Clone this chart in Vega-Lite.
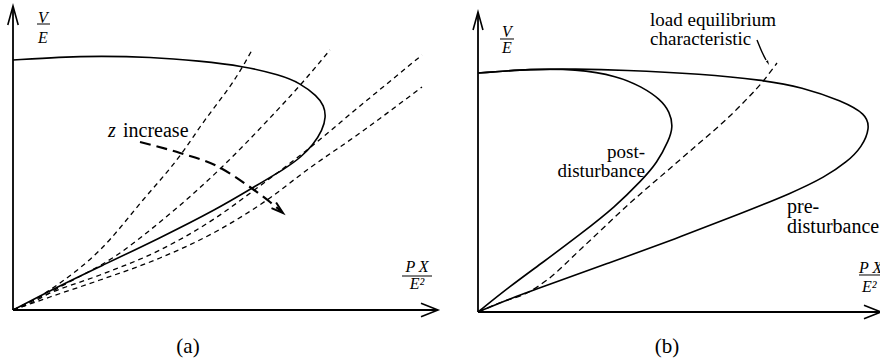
{
  "$schema": "https://vega.github.io/schema/vega-lite/v6.json",
  "padding": 0,
  "spacing": 0,
  "background": "white",
  "config": {
    "view": {"stroke": null},
    "concat": {"spacing": 0},
    "text": {"font": "Liberation Serif", "color": "black"}
  },
  "datasets": {
    "axesA": [
      {"x": 0, "y": 0, "x2": 0, "y2": 1.208},
      {"x": 0, "y": 0, "x2": 1.696, "y2": 0}
    ],
    "tipYA": [{"x": 0, "y": 1.216}],
    "tipXA": [{"x": 1.7, "y": 0}],
    "pvA": [
      {"o": 1, "x": 0, "y": 0},
      {"o": 2, "x": 0.188, "y": 0.098},
      {"o": 3, "x": 0.348, "y": 0.174},
      {"o": 4, "x": 0.588, "y": 0.288},
      {"o": 5, "x": 0.816, "y": 0.404},
      {"o": 6, "x": 0.96, "y": 0.49},
      {"o": 7, "x": 1.096, "y": 0.57},
      {"o": 8, "x": 1.152, "y": 0.612},
      {"o": 9, "x": 1.2, "y": 0.66},
      {"o": 10, "x": 1.238, "y": 0.72},
      {"o": 11, "x": 1.252, "y": 0.772},
      {"o": 12, "x": 1.244, "y": 0.818},
      {"o": 13, "x": 1.216, "y": 0.856},
      {"o": 14, "x": 1.148, "y": 0.908},
      {"o": 15, "x": 1.068, "y": 0.94},
      {"o": 16, "x": 0.92, "y": 0.976},
      {"o": 17, "x": 0.748, "y": 0.996},
      {"o": 18, "x": 0.548, "y": 1.012},
      {"o": 19, "x": 0.348, "y": 1.016},
      {"o": 20, "x": 0.188, "y": 1.012},
      {"o": 21, "x": 0, "y": 1.0}
    ],
    "loadA": [
      {"z": "z1", "x": 0, "y": 0}, {"z": "z1", "x": 0.068, "y": 0.032}, {"z": "z1", "x": 0.188, "y": 0.108},
      {"z": "z1", "x": 0.348, "y": 0.24}, {"z": "z1", "x": 0.52, "y": 0.44}, {"z": "z1", "x": 0.676, "y": 0.628},
      {"z": "z1", "x": 0.748, "y": 0.732}, {"z": "z1", "x": 0.92, "y": 0.976}, {"z": "z1", "x": 0.956, "y": 1.04},
      {"z": "z2", "x": 0, "y": 0}, {"z": "z2", "x": 0.08, "y": 0.032}, {"z": "z2", "x": 0.188, "y": 0.092},
      {"z": "z2", "x": 0.416, "y": 0.22}, {"z": "z2", "x": 0.588, "y": 0.352}, {"z": "z2", "x": 0.836, "y": 0.572},
      {"z": "z2", "x": 1.02, "y": 0.76}, {"z": "z2", "x": 1.156, "y": 0.908}, {"z": "z2", "x": 1.268, "y": 1.04},
      {"z": "z3", "x": 0, "y": 0}, {"z": "z3", "x": 0.148, "y": 0.068}, {"z": "z3", "x": 0.348, "y": 0.14},
      {"z": "z3", "x": 0.588, "y": 0.24}, {"z": "z3", "x": 0.816, "y": 0.372}, {"z": "z3", "x": 0.96, "y": 0.476},
      {"z": "z3", "x": 1.176, "y": 0.64}, {"z": "z3", "x": 1.388, "y": 0.816}, {"z": "z3", "x": 1.636, "y": 1.02},
      {"z": "z4", "x": 0, "y": 0}, {"z": "z4", "x": 0.148, "y": 0.052}, {"z": "z4", "x": 0.348, "y": 0.12},
      {"z": "z4", "x": 0.588, "y": 0.208}, {"z": "z4", "x": 0.816, "y": 0.316}, {"z": "z4", "x": 1.016, "y": 0.44},
      {"z": "z4", "x": 1.176, "y": 0.56}, {"z": "z4", "x": 1.388, "y": 0.708}, {"z": "z4", "x": 1.636, "y": 0.892}
    ],
    "zArrow": [
      {"x": 0.508, "y": 0.672}, {"x": 0.668, "y": 0.628}, {"x": 0.816, "y": 0.576},
      {"x": 0.936, "y": 0.5}, {"x": 1.028, "y": 0.432}, {"x": 1.072, "y": 0.396}
    ],
    "zTip": [{"x": 1.08, "y": 0.388}],
    "barsA": [
      {"x": 0.096, "x2": 0.148, "y": 1.144},
      {"x": 1.556, "x2": 1.676, "y": 0.136}
    ],
    "mathA": [
      {"x": 0.12, "y": 1.168, "t": "V"},
      {"x": 0.12, "y": 1.088, "t": "E"},
      {"x": 1.616, "y": 0.172, "t": "P X"},
      {"x": 1.616, "y": 0.104, "t": "E²"}
    ],
    "zLetter": [{"x": 0.38, "y": 0.692, "t": "z"}],
    "wordsA": [{"x": 0.44, "y": 0.692, "t": "increase"}],
    "capA": [{"x": 0.7, "y": -0.148, "t": "(a)"}],

    "axesB": [
      {"x": 0, "y": 0, "x2": 0, "y2": 1.2417},
      {"x": 0, "y": 0, "x2": 1.675, "y2": 0}
    ],
    "tipYB": [{"x": 0, "y": 1.25}],
    "tipXB": [{"x": 1.679, "y": 0}],
    "pvB": [
      {"curve": "pre", "o": 1, "x": 0, "y": 0},
      {"curve": "pre", "o": 2, "x": 0.1292, "y": 0.0542},
      {"curve": "pre", "o": 3, "x": 0.2667, "y": 0.1042},
      {"curve": "pre", "o": 4, "x": 0.5458, "y": 0.2042},
      {"curve": "pre", "o": 5, "x": 0.8208, "y": 0.3042},
      {"curve": "pre", "o": 6, "x": 1.1, "y": 0.4125},
      {"curve": "pre", "o": 7, "x": 1.3083, "y": 0.4958},
      {"curve": "pre", "o": 8, "x": 1.4458, "y": 0.5625},
      {"curve": "pre", "o": 9, "x": 1.5375, "y": 0.625},
      {"curve": "pre", "o": 10, "x": 1.6, "y": 0.6875},
      {"curve": "pre", "o": 11, "x": 1.6333, "y": 0.7667},
      {"curve": "pre", "o": 12, "x": 1.6167, "y": 0.825},
      {"curve": "pre", "o": 13, "x": 1.5167, "y": 0.8792},
      {"curve": "pre", "o": 14, "x": 1.35, "y": 0.9375},
      {"curve": "pre", "o": 15, "x": 1.1833, "y": 0.9667},
      {"curve": "pre", "o": 16, "x": 0.9333, "y": 0.9917},
      {"curve": "pre", "o": 17, "x": 0.6, "y": 1.0083},
      {"curve": "pre", "o": 18, "x": 0.4042, "y": 1.0125},
      {"curve": "pre", "o": 19, "x": 0.225, "y": 1.0125},
      {"curve": "pre", "o": 20, "x": 0, "y": 0.9958},
      {"curve": "post", "o": 1, "x": 0, "y": 0},
      {"curve": "post", "o": 2, "x": 0.1292, "y": 0.1042},
      {"curve": "post", "o": 3, "x": 0.2667, "y": 0.2042},
      {"curve": "post", "o": 4, "x": 0.4333, "y": 0.3292},
      {"curve": "post", "o": 5, "x": 0.5708, "y": 0.4375},
      {"curve": "post", "o": 6, "x": 0.6833, "y": 0.55},
      {"curve": "post", "o": 7, "x": 0.7458, "y": 0.6208},
      {"curve": "post", "o": 8, "x": 0.7958, "y": 0.7167},
      {"curve": "post", "o": 9, "x": 0.8125, "y": 0.7708},
      {"curve": "post", "o": 10, "x": 0.8, "y": 0.8333},
      {"curve": "post", "o": 11, "x": 0.7583, "y": 0.8875},
      {"curve": "post", "o": 12, "x": 0.6833, "y": 0.9375},
      {"curve": "post", "o": 13, "x": 0.5833, "y": 0.9833},
      {"curve": "post", "o": 14, "x": 0.4042, "y": 1.0125},
      {"curve": "post", "o": 15, "x": 0.225, "y": 1.0125},
      {"curve": "post", "o": 16, "x": 0, "y": 0.9958}
    ],
    "loadB": [
      {"x": 0, "y": 0}, {"x": 0.1, "y": 0.0417}, {"x": 0.2042, "y": 0.0792},
      {"x": 0.2875, "y": 0.1333}, {"x": 0.4333, "y": 0.2667}, {"x": 0.6292, "y": 0.45},
      {"x": 0.85, "y": 0.6417}, {"x": 1.0875, "y": 0.8542}, {"x": 1.1917, "y": 0.9667},
      {"x": 1.2458, "y": 1.0375}
    ],
    "pointer": [
      {"x": 1.1625, "y": 1.1333}, {"x": 1.1833, "y": 1.0833}, {"x": 1.2, "y": 1.05}
    ],
    "pointerTip": [{"x": 1.2125, "y": 1.0292}],
    "barsB": [
      {"x": 0.0917, "x2": 0.15, "y": 1.1375},
      {"x": 1.5875, "x2": 1.75, "y": 0.1542}
    ],
    "mathB": [
      {"x": 0.1208, "y": 1.1667, "t": "V"},
      {"x": 0.1208, "y": 1.1, "t": "E"}
    ],
    "mathBEdge": [
      {"x": 1.5875, "y": 0.1833, "t": "P X"},
      {"x": 1.6, "y": 0.1042, "t": "E²"}
    ],
    "leftB": [
      {"x": 0.7167, "y": 1.1917, "t": "load equilibrium"},
      {"x": 0.7167, "y": 1.1125, "t": "characteristic"}
    ],
    "postLbl": [
      {"x": 0.6958, "y": 0.6667, "t": "post-"},
      {"x": 0.6958, "y": 0.5875, "t": "disturbance"}
    ],
    "preLbl": [
      {"x": 1.2875, "y": 0.4375, "t": "pre-"},
      {"x": 1.2875, "y": 0.3542, "t": "disturbance"}
    ],
    "capB": [{"x": 0.7875, "y": -0.1458, "t": "(b)"}]
  },
  "hconcat": [
    {
      "width": 440,
      "height": 364,
      "encoding": {
        "x": {"field": "x", "type": "quantitative", "scale": {"domain": [-0.052, 1.708], "nice": false, "zero": false}, "axis": null},
        "y": {"field": "y", "type": "quantitative", "scale": {"domain": [-0.216, 1.24], "nice": false, "zero": false}, "axis": null}
      },
      "layer": [
        {
          "data": {"name": "axesA"},
          "mark": {"type": "rule", "stroke": "black", "strokeWidth": 1.8},
          "encoding": {"x2": {"field": "x2"}, "y2": {"field": "y2"}}
        },
        {
          "data": {"name": "tipYA"},
          "mark": {"type": "point", "shape": "M-0.55,2L0,0L0.55,2", "size": 361, "filled": false, "stroke": "black", "strokeWidth": 1.6, "opacity": 1}
        },
        {
          "data": {"name": "tipXA"},
          "mark": {"type": "point", "shape": "M-0.8,2L0,0L0.8,2", "size": 289, "angle": 90, "filled": false, "stroke": "black", "strokeWidth": 1.6, "opacity": 1}
        },
        {
          "data": {"name": "loadA"},
          "mark": {"type": "line", "stroke": "black", "strokeWidth": 1.3, "strokeDash": [5, 4], "interpolate": "monotone"},
          "encoding": {"detail": {"field": "z"}}
        },
        {
          "data": {"name": "pvA"},
          "mark": {"type": "line", "stroke": "black", "strokeWidth": 1.6, "interpolate": "basis"},
          "encoding": {"order": {"field": "o", "type": "quantitative"}}
        },
        {
          "data": {"name": "zArrow"},
          "mark": {"type": "line", "stroke": "black", "strokeWidth": 2.2, "strokeDash": [11, 6], "interpolate": "monotone"},
          "encoding": {}
        },
        {
          "data": {"name": "zTip"},
          "mark": {"type": "point", "shape": "M-0.6,2L0,0L0.6,2", "size": 144, "angle": 130, "filled": false, "stroke": "black", "strokeWidth": 2, "opacity": 1}
        },
        {
          "data": {"name": "barsA"},
          "mark": {"type": "rule", "stroke": "black", "strokeWidth": 1},
          "encoding": {"x2": {"field": "x2"}}
        },
        {
          "data": {"name": "mathA"},
          "mark": {"type": "text", "fontStyle": "italic", "fontSize": 16, "align": "center", "baseline": "middle"},
          "encoding": {"text": {"field": "t"}}
        },
        {
          "data": {"name": "zLetter"},
          "mark": {"type": "text", "fontStyle": "italic", "fontSize": 20, "align": "left", "baseline": "alphabetic"},
          "encoding": {"text": {"field": "t"}}
        },
        {
          "data": {"name": "wordsA"},
          "mark": {"type": "text", "fontSize": 20, "align": "left", "baseline": "alphabetic"},
          "encoding": {"text": {"field": "t"}}
        },
        {
          "data": {"name": "capA"},
          "mark": {"type": "text", "fontSize": 21, "align": "center", "baseline": "middle"},
          "encoding": {"text": {"field": "t"}}
        }
      ]
    },
    {
      "width": 440,
      "height": 364,
      "encoding": {
        "x": {"field": "x", "type": "quantitative", "scale": {"domain": [-0.15, 1.6833], "nice": false, "zero": false}, "axis": null},
        "y": {"field": "y", "type": "quantitative", "scale": {"domain": [-0.2167, 1.3], "nice": false, "zero": false}, "axis": null}
      },
      "layer": [
        {
          "data": {"name": "axesB"},
          "mark": {"type": "rule", "stroke": "black", "strokeWidth": 1.8},
          "encoding": {"x2": {"field": "x2"}, "y2": {"field": "y2"}}
        },
        {
          "data": {"name": "tipYB"},
          "mark": {"type": "point", "shape": "M-0.55,2L0,0L0.55,2", "size": 324, "filled": false, "stroke": "black", "strokeWidth": 1.6, "opacity": 1}
        },
        {
          "data": {"name": "tipXB"},
          "mark": {"type": "point", "shape": "M-0.8,2L0,0L0.8,2", "size": 289, "angle": 90, "filled": false, "stroke": "black", "strokeWidth": 1.6, "opacity": 1, "clip": true}
        },
        {
          "data": {"name": "loadB"},
          "mark": {"type": "line", "stroke": "black", "strokeWidth": 1.3, "strokeDash": [6, 4], "interpolate": "monotone"},
          "encoding": {}
        },
        {
          "data": {"name": "pvB"},
          "mark": {"type": "line", "stroke": "black", "strokeWidth": 1.6, "interpolate": "basis"},
          "encoding": {"detail": {"field": "curve"}, "order": {"field": "o", "type": "quantitative"}}
        },
        {
          "data": {"name": "pointer"},
          "mark": {"type": "line", "stroke": "black", "strokeWidth": 1.4, "interpolate": "monotone"},
          "encoding": {}
        },
        {
          "data": {"name": "pointerTip"},
          "mark": {"type": "point", "shape": "M0,0L-0.5,2L0.5,2Z", "size": 22, "angle": 154, "filled": true, "fill": "black", "opacity": 1}
        },
        {
          "data": {"name": "barsB"},
          "mark": {"type": "rule", "stroke": "black", "strokeWidth": 1, "clip": true},
          "encoding": {"x2": {"field": "x2"}}
        },
        {
          "data": {"name": "mathB"},
          "mark": {"type": "text", "fontStyle": "italic", "fontSize": 16, "align": "center", "baseline": "middle"},
          "encoding": {"text": {"field": "t"}}
        },
        {
          "data": {"name": "mathBEdge"},
          "mark": {"type": "text", "fontStyle": "italic", "fontSize": 16, "align": "left", "baseline": "middle", "clip": true},
          "encoding": {"text": {"field": "t"}}
        },
        {
          "data": {"name": "leftB"},
          "mark": {"type": "text", "fontSize": 19, "align": "left", "baseline": "alphabetic"},
          "encoding": {"text": {"field": "t"}}
        },
        {
          "data": {"name": "postLbl"},
          "mark": {"type": "text", "fontSize": 19, "align": "right", "baseline": "middle"},
          "encoding": {"text": {"field": "t"}}
        },
        {
          "data": {"name": "preLbl"},
          "mark": {"type": "text", "fontSize": 20, "align": "left", "baseline": "middle", "clip": true},
          "encoding": {"text": {"field": "t"}}
        },
        {
          "data": {"name": "capB"},
          "mark": {"type": "text", "fontSize": 21, "align": "center", "baseline": "middle"},
          "encoding": {"text": {"field": "t"}}
        }
      ]
    }
  ]
}
